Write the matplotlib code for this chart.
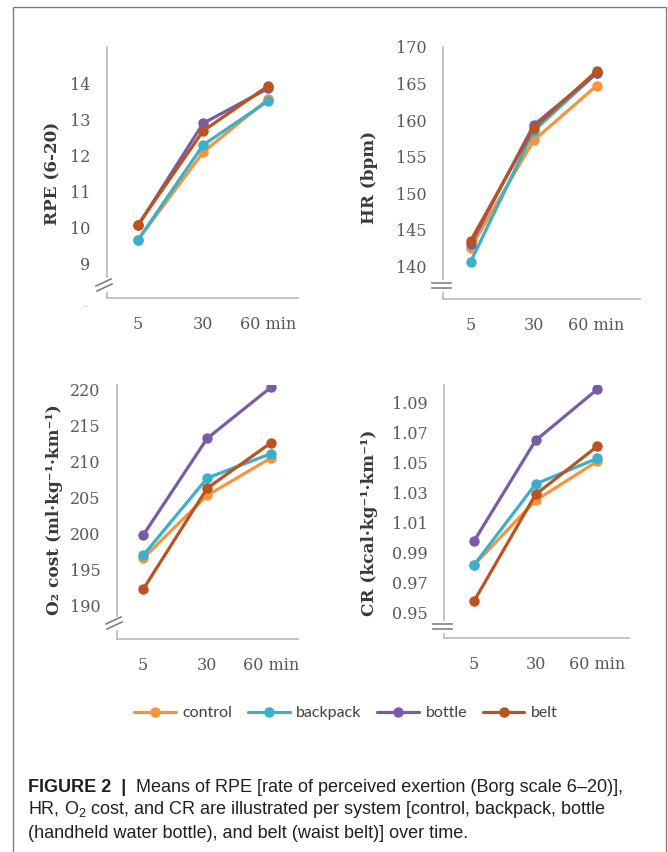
import matplotlib
matplotlib.use("Agg")
import matplotlib.pyplot as plt
from matplotlib.lines import Line2D
from matplotlib.patches import Rectangle
from matplotlib.text import Annotation

# ---------------- data ----------------
time_labels = ["5", "30", "60 min"]
systems = ["control", "backpack", "bottle", "belt"]
colors = ["#F4943F", "#3BAFCB", "#7B5BA6", "#B9531F"]

rpe_control = [9.65, 12.08, 13.55]
rpe_backpack = [9.65, 12.28, 13.50]
rpe_bottle = [10.05, 12.88, 13.85]
rpe_belt = [10.07, 12.67, 13.92]

hr_control = [142.5, 157.2, 164.7]
hr_backpack = [140.6, 158.5, 166.4]
hr_bottle = [143.0, 159.3, 166.4]
hr_belt = [143.5, 158.9, 166.7]

o2_control = [196.6, 205.3, 210.5]
o2_backpack = [197.0, 207.7, 211.1]
o2_bottle = [199.8, 213.2, 220.3]
o2_belt = [192.3, 206.3, 212.6]

cr_control = [0.982, 1.025, 1.051]
cr_backpack = [0.982, 1.036, 1.053]
cr_bottle = [0.998, 1.065, 1.099]
cr_belt = [0.958, 1.029, 1.061]

rpe_ticks = [9, 10, 11, 12, 13, 14]
hr_ticks = [140, 145, 150, 155, 160, 165, 170]
o2_ticks = [190, 195, 200, 205, 210, 215, 220]
cr_ticks = [0.95, 0.97, 0.99, 1.01, 1.03, 1.05, 1.07, 1.09]

# ---------------- layout ----------------
W, H = 668, 852
fig = plt.figure(figsize=(W / 100, H / 100), dpi=100)


def px_axes(left, right, top, bottom):
    return fig.add_axes([left / W, (H - bottom) / H, (right - left) / W, (bottom - top) / H])


def fx(x):
    return x / W


def fy(y):
    return (H - y) / H


panels = [
    dict(box=(107, 298, 47, 298), series=[rpe_control, rpe_backpack, rpe_bottle, rpe_belt],
         ylim=(8.03, 15.0), xlim=(-0.48, 2.46), ticks=rpe_ticks, fmt="{:d}",
         label="RPE (6-20)", lab=(53, 173)),
    dict(box=(443, 640, 47, 299), series=[hr_control, hr_backpack, hr_bottle, hr_belt],
         ylim=(135.5, 170.0), xlim=(-0.44, 2.69), ticks=hr_ticks, fmt="{:d}",
         label="HR (bpm)", lab=(370, 177)),
    dict(box=(117, 298, 385, 639), series=[o2_control, o2_backpack, o2_bottle, o2_belt],
         ylim=(185.4, 220.6), xlim=(-0.41, 2.42), ticks=o2_ticks, fmt="{:d}",
         label="O\u2082 cost (ml\u00b7kg\u207b\u00b9\u00b7km\u207b\u00b9)", lab=(55, 510)),
    dict(box=(444, 629, 385, 638), series=[cr_control, cr_backpack, cr_bottle, cr_belt],
         ylim=(0.9333, 1.102), xlim=(-0.49, 2.52), ticks=cr_ticks, fmt="{:.2f}",
         label="CR (kcal\u00b7kg\u207b\u00b9\u00b7km\u207b\u00b9)", lab=(370, 523)),
]

serif = "DejaVu Serif"
tick_color = "#595959"
spine_color = "#BFBFBF"

handles = []
for p in panels:
    ax = px_axes(*p["box"])
    x = list(range(len(time_labels)))
    for vals, name, c in zip(p["series"], systems, colors):
        ln, = ax.plot(x, vals, color=c, lw=2.3, marker="o", ms=6.5, label=name,
                      solid_capstyle="round", solid_joinstyle="round")
        if len(handles) < 4:
            handles.append(ln)
    ax.set_xlim(*p["xlim"])
    ax.set_ylim(*p["ylim"])
    ax.set_xticks(x)
    ax.set_xticklabels(time_labels)
    ax.set_yticks(p["ticks"])
    ax.set_yticklabels([p["fmt"].format(t) for t in p["ticks"]])
    for s in ["top", "right"]:
        ax.spines[s].set_visible(False)
    for s in ["left", "bottom"]:
        ax.spines[s].set_color(spine_color)
        ax.spines[s].set_linewidth(1.3)
    ax.tick_params(axis="both", length=0, labelsize=11.5, labelcolor=tick_color)
    ax.tick_params(axis="y", pad=12)
    ax.tick_params(axis="x", pad=13)
    for t in ax.get_xticklabels() + ax.get_yticklabels():
        t.set_fontfamily(serif)
    ax.set_facecolor("none")
    lx, ly = p["lab"]
    fig.text(fx(lx), fy(ly), p["label"], rotation=90, ha="center", va="center",
             fontsize=12.2, fontweight="bold", family=[serif], color="#3A3A3A")

# axis break marks (pixel positions of the decorations)
brk = "#808080"


def seg(x0, y0, x1, y1, color=brk, lw=1.2):
    fig.add_artist(Line2D([fx(x0), fx(x1)], [fy(y0), fy(y1)], color=color, lw=lw))


# white gaps on axes where breaks sit
for (xa, ya, yb) in [(107, 280, 290), (443, 282, 290), (117, 619, 628), (444, 623, 631)]:
    seg(xa, ya, xa, yb, color="white", lw=3)
# slanted double slash (RPE, O2)
for (cx, cy) in [(104, 285), (114, 623)]:
    seg(cx - 8, cy + 1, cx + 7, cy - 6)
    seg(cx - 7, cy + 6, cx + 8, cy - 1)
# horizontal double bar (HR, CR)
for (cx, cy) in [(442, 286), (443, 627)]:
    seg(cx - 10, cy - 3, cx + 9, cy - 3)
    seg(cx - 10, cy + 2, cx + 9, cy + 2)

fig.text(fx(85), fy(306), "-", ha="center", va="center", fontsize=7, color="#BFBFBF")

# legend
leg = fig.legend(handles, systems, loc="center", bbox_to_anchor=(fx(346), fy(713)),
                 ncol=4, frameon=False, handlelength=2.6, handletextpad=0.4,
                 columnspacing=1.0, prop={"family": "Lato", "size": 11.5})
for t in leg.get_texts():
    t.set_color("#404040")

# outer border
fig.add_artist(Rectangle((fx(13), -0.02), fx(666) - fx(13), fy(7) + 0.02,
                         transform=fig.transFigure, fill=False, ec="#7F7F7F", lw=1.0))

# caption
plt.rcParams["mathtext.fontset"] = "custom"
plt.rcParams["mathtext.rm"] = "Liberation Sans"
plt.rcParams["mathtext.it"] = "Liberation Sans"
cap_font = "Liberation Sans"
cap_color = "#231F20"
cap_size = 13.0
t1 = fig.text(fx(28), fy(787), "FIGURE 2  |", fontsize=cap_size, fontweight="bold",
              family=cap_font, color=cap_color, va="center")
fig.add_artist(Annotation("  Means of RPE [rate of perceived exertion (Borg scale 6\u201320)],",
                          xy=(1, 0.5), xycoords=t1, va="center", ha="left",
                          fontsize=cap_size, family=cap_font, color=cap_color))
fig.text(fx(28), fy(810), "HR, O$_2$ cost, and CR are illustrated per system [control, backpack, bottle",
         fontsize=cap_size, family=cap_font, color=cap_color, va="center")
fig.text(fx(28), fy(833), "(handheld water bottle), and belt (waist belt)] over time.",
         fontsize=cap_size, family=cap_font, color=cap_color, va="center")

fig.savefig("out.png", dpi=100, facecolor="white")
